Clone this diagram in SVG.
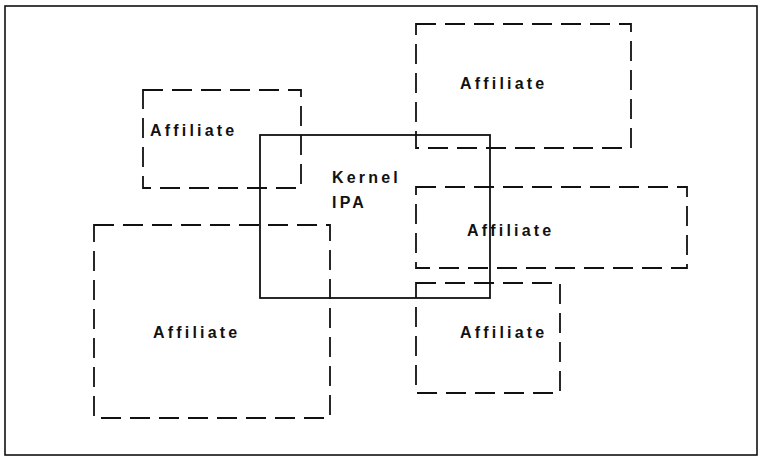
<svg xmlns="http://www.w3.org/2000/svg" width="763" height="461" viewBox="0 0 763 461">
<style>
.frame{fill:none;stroke:#111;stroke-width:1.6}
.aff{fill:none;stroke:#111;stroke-width:1.8;stroke-dasharray:20 9}
.kern{fill:none;stroke:#111;stroke-width:1.8}
text{font-family:"Liberation Sans",Arial,sans-serif;font-weight:bold;font-size:16px;letter-spacing:3.2px;fill:#111}
</style>
<rect width="763" height="461" fill="#fff"/>
<rect class="frame" x="5" y="6" width="752" height="449"/>
<g id="kernel">
<rect class="kern" x="260" y="135" width="230" height="163"/>
<text x="332" y="183">Kernel</text>
<text x="332" y="208">IPA</text>
</g>
<g id="affiliate-top-left">
<rect class="aff" x="143" y="90" width="158" height="98"/>
<text x="150" y="136">Affiliate</text>
</g>
<g id="affiliate-top-right">
<rect class="aff" x="416" y="24" width="215" height="124"/>
<text x="460" y="89">Affiliate</text>
</g>
<g id="affiliate-mid-right">
<rect class="aff" x="416" y="187" width="271" height="81"/>
<text x="467" y="236">Affiliate</text>
</g>
<g id="affiliate-bottom-left">
<rect class="aff" x="94" y="225" width="236" height="193"/>
<text x="153" y="338">Affiliate</text>
</g>
<g id="affiliate-bottom-right">
<rect class="aff" x="416" y="283" width="144" height="110"/>
<text x="460" y="338">Affiliate</text>
</g>
<g id="connectors"></g>
</svg>
